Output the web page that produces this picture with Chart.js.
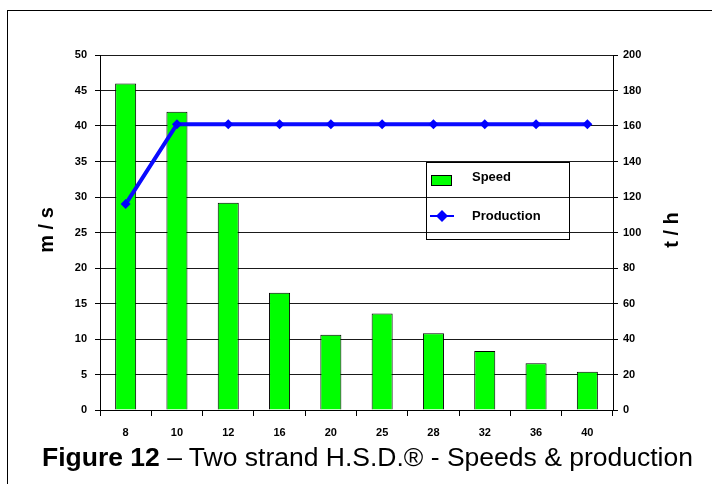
<!DOCTYPE html>
<html lang="en">
<head>
<meta charset="UTF-8">
<title>Two strand H.S.D. - Speeds &amp; production</title>
<script src="https://cdn.jsdelivr.net/npm/chart.js@4"></script>
<style>
  body { margin: 0; background: #fff; overflow: hidden; font-family: Arial, "Liberation Sans", sans-serif; }
  .frame { position: absolute; left: 7px; top: 10px; width: 760px; height: 540px; border: 1.5px solid #000; }
  .wrap { position: absolute; left: 0; top: 0; width: 712px; height: 484px; }
  .caption { position: absolute; left: 42px; top: 442px; font-size: 26.5px; white-space: nowrap; color: #000; }
</style>
</head>
<body>
<div class="frame"></div>
<div class="wrap"><canvas id="chart" width="712" height="484"></canvas></div>
<div class="caption"><b>Figure 12</b> – Two strand H.S.D.® - Speeds &amp; production</div>
<script>
// diameters (mm)
const categories = ["8", "10", "12", "16", "20", "25", "28", "32", "36", "40"];
// finishing speed, m/s
const speed = [46, 42, 29.2, 16.5, 10.6, 13.6, 10.8, 8.3, 6.6, 5.4];
// production, t/h
const production = [116, 161, 161, 161, 161, 161, 161, 161, 161, 161];

const font = "Arial, 'Liberation Sans', sans-serif";

// axis titles + the little legend box inside the plot
const extras = {
  id: "extras",
  afterDraw(chart) {
    const ctx = chart.ctx;
    ctx.save();
    ctx.fillStyle = "#000";
    ctx.font = "bold 20px " + font;
    ctx.textAlign = "center";
    ctx.textBaseline = "middle";
    [["m / s", 47], ["t / h", 672]].forEach(([t, x]) => {
      ctx.save();
      ctx.translate(x, 230);
      ctx.rotate(-Math.PI / 2);
      ctx.fillText(t, 0, 0);
      ctx.restore();
    });

    // legend
    ctx.strokeStyle = "#000";
    ctx.lineWidth = 1;
    ctx.strokeRect(426.5, 162.5, 143, 77);
    ctx.fillStyle = "#00ff00";
    ctx.fillRect(431, 175, 21, 10);
    ctx.strokeRect(431.5, 175.5, 20, 10);
    ctx.strokeStyle = "#0000ff";
    ctx.lineWidth = 2;
    ctx.beginPath();
    ctx.moveTo(430, 216);
    ctx.lineTo(454, 216);
    ctx.stroke();
    ctx.fillStyle = "#0000ff";
    ctx.beginPath();
    ctx.moveTo(442, 210);
    ctx.lineTo(448, 216);
    ctx.lineTo(442, 222);
    ctx.lineTo(436, 216);
    ctx.closePath();
    ctx.fill();
    ctx.fillStyle = "#000";
    ctx.font = "bold 13px " + font;
    ctx.textAlign = "left";
    ctx.fillText("Speed", 472, 177);
    ctx.fillText("Production", 472, 216);
    ctx.restore();
  }
};

new Chart(document.getElementById("chart"), {
  data: {
    labels: categories,
    datasets: [
      {
        type: "line",
        label: "Production",
        data: production,
        yAxisID: "y1",
        borderColor: "#0a0aff",
        borderWidth: 4,
        backgroundColor: "#0000ff",
        pointStyle: "rectRot",
        pointRadius: 5,
        pointBorderWidth: 0,
        order: 0
      },
      {
        type: "bar",
        label: "Speed",
        data: speed,
        yAxisID: "y",
        backgroundColor: "#00ff00",
        borderColor: "#000",
        borderWidth: 1,
        categoryPercentage: 1,
        barPercentage: 0.41,
        order: 1
      }
    ]
  },
  options: {
    responsive: false,
    animation: false,
    layout: { padding: { top: 55, left: 0, right: 0, bottom: 0 } },
    plugins: { legend: { display: false }, tooltip: { enabled: false } },
    scales: {
      x: {
        offset: true,
        afterFit(s) { s.height = 74; },
        grid: { offset: true, drawOnChartArea: false, drawTicks: true, tickLength: 6, tickColor: "#000" },
        border: { color: "#000", width: 1 },
        ticks: { color: "#000", padding: 10, font: { family: font, size: 11, weight: "bold" } }
      },
      y: {
        position: "left",
        min: 0,
        max: 50,
        afterFit(s) { s.width = 100; },
        grid: { color: "#1a1a1a", lineWidth: 1, tickLength: 5, tickColor: "#000" },
        border: { color: "#000", width: 1 },
        ticks: { stepSize: 5, color: "#000", padding: 8, font: { family: font, size: 11, weight: "bold" } }
      },
      y1: {
        position: "right",
        min: 0,
        max: 200,
        afterFit(s) { s.width = 99; },
        grid: { drawOnChartArea: false, tickLength: 5, tickColor: "#000" },
        border: { color: "#000", width: 1 },
        ticks: { stepSize: 20, color: "#000", padding: 5, font: { family: font, size: 11, weight: "bold" } }
      }
    }
  },
  plugins: [extras]
});
</script>
</body>
</html>
